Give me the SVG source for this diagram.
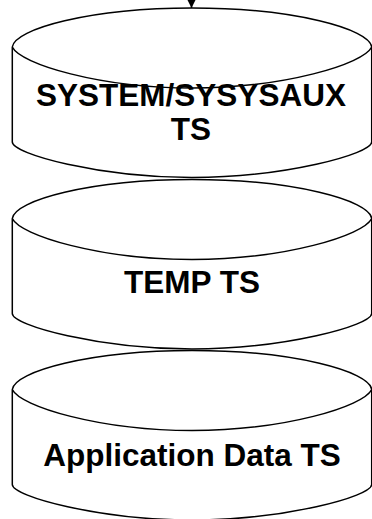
<svg xmlns="http://www.w3.org/2000/svg" width="372" height="519" viewBox="0 0 372 519">
<defs>
<style>
.cyl{fill:#fff;stroke:#000;stroke-width:1.5;stroke-linejoin:round}
.lbl{font-family:"Liberation Sans",Arial,sans-serif;font-weight:bold;font-size:31.5px;fill:#000;text-anchor:middle}
.conn{stroke:#000;stroke-width:1.5;fill:none}
</style>
<path id="cylShape" d="M12.3,39 C14.3,21 90,0 192,0 C294,0 369.7,21 371.7,39 L371.7,134 C371.7,146 284,169.5 192,169.5 C100,169.5 12.3,146 12.3,134 Z M12.3,39 C20.3,56 100,80 192,80 C284,80 363.7,56 371.7,39"/>
<marker id="arr" markerWidth="10" markerHeight="10" refX="9" refY="4.5" orient="auto" markerUnits="userSpaceOnUse">
<path d="M0,0 L9,4.5 L0,9 Z" fill="#000"/>
</marker>
</defs>
<rect width="372" height="519" fill="#fff"/>
<g id="connectors">
<path class="conn" d="M191.5,-12 L191.5,8" marker-end="url(#arr)"/>
</g>
<g id="system-ts">
<use href="#cylShape" class="cyl" transform="translate(0,8)"/>
<text class="lbl" x="191" y="106">SYSTEM/SYSYSAUX</text>
<text class="lbl" x="191" y="140">TS</text>
</g>
<g id="temp-ts">
<use href="#cylShape" class="cyl" transform="translate(0,179.5)"/>
<text class="lbl" x="192" y="293">TEMP TS</text>
</g>
<g id="app-data-ts">
<use href="#cylShape" class="cyl" transform="translate(0,350.5)"/>
<text class="lbl" x="192" y="466">Application Data TS</text>
</g>
</svg>
